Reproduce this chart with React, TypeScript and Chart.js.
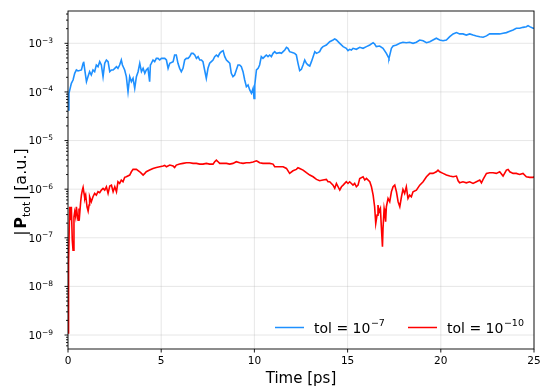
import { useEffect, useRef } from 'react';
import { Chart, registerables } from 'chart.js';

Chart.register(...registerables);

const FONT = '"DejaVu Sans", "Liberation Sans", sans-serif';

// ---- data ----
const blueTime = [
  0.00, 0.05, 0.18, 0.27, 0.36, 0.45, 0.54, 0.72, 0.81, 0.84, 0.90, 0.99, 1.07, 1.16, 1.25, 1.34, 1.43, 1.52, 1.61, 1.70,
  1.79, 1.88, 1.97, 2.06, 2.15, 2.24, 2.33, 2.42, 2.51, 2.60, 2.68, 2.77, 2.86, 2.92, 3.04, 3.13, 3.22, 3.31, 3.40, 3.49,
  3.58, 3.67, 3.76, 3.85, 3.94, 4.03, 4.12, 4.20, 4.29, 4.38, 4.42, 4.47, 4.56, 4.65, 4.74, 4.83, 4.92, 5.01, 5.19, 5.28,
  5.37, 5.46, 5.64, 5.72, 5.81, 5.90, 5.99, 6.08, 6.17, 6.26, 6.35, 6.44, 6.53, 6.62, 6.71, 6.80, 6.89, 6.98, 7.07, 7.16,
  7.24, 7.33, 7.42, 7.51, 7.60, 7.69, 7.78, 7.87, 7.96, 8.05, 8.14, 8.23, 8.32, 8.41, 8.50, 8.59, 8.68, 8.76, 8.85, 8.94,
  9.03, 9.12, 9.21, 9.30, 9.39, 9.48, 9.57, 9.66, 9.75, 9.84, 9.93, 9.98, 10.02, 10.11, 10.20, 10.28, 10.37, 10.46, 10.55, 10.64,
  10.73, 10.82, 10.91, 11.00, 11.09, 11.18, 11.36, 11.45, 11.54, 11.63, 11.72, 11.80, 11.89, 12.07, 12.16, 12.25, 12.34, 12.43, 12.52, 12.61,
  12.70, 12.79, 12.88, 12.97, 13.06, 13.15, 13.24, 13.33, 13.41, 13.50, 13.59, 13.68, 13.86, 14.04, 14.22, 14.31, 14.40, 14.58, 14.76, 14.93,
  15.02, 15.11, 15.20, 15.29, 15.47, 15.65, 15.83, 16.01, 16.19, 16.37, 16.45, 16.54, 16.72, 16.90, 17.08, 17.17, 17.22, 17.35, 17.44, 17.62,
  17.80, 17.97, 18.15, 18.33, 18.51, 18.69, 18.87, 19.05, 19.23, 19.41, 19.58, 19.76, 19.94, 20.12, 20.30, 20.48, 20.66, 20.84, 21.01, 21.19,
  21.37, 21.55, 21.73, 21.91, 22.09, 22.27, 22.45, 22.62, 22.80, 22.98, 23.16, 23.34, 23.52, 23.70, 23.88, 24.05, 24.23, 24.41, 24.59, 24.68,
  24.77, 24.95, 25.00,
];
const blueValue = [
  4.25e-5, 9.4e-5, 1.50e-4, 1.76e-4, 2.42e-4, 2.83e-4, 2.70e-4, 2.83e-4, 3.88e-4, 4.20e-4, 2.83e-4, 1.63e-4, 2.06e-4, 2.61e-4, 2.23e-4, 2.83e-4, 2.61e-4, 3.58e-4, 3.31e-4, 4.20e-4,
  3.58e-4, 2.06e-4, 3.88e-4, 4.54e-4, 4.20e-4, 2.61e-4, 2.83e-4, 2.83e-4, 3.06e-4, 3.31e-4, 3.06e-4, 3.58e-4, 4.54e-4, 3.58e-4, 2.83e-4, 2.06e-4, 1.01e-4, 2.06e-4, 1.63e-4, 1.91e-4,
  1.19e-4, 2.06e-4, 2.61e-4, 3.88e-4, 2.61e-4, 3.06e-4, 2.42e-4, 2.83e-4, 3.06e-4, 1.63e-4, 3.58e-4, 3.88e-4, 4.54e-4, 4.20e-4, 4.91e-4, 4.91e-4, 4.54e-4, 4.91e-4, 4.91e-4, 4.54e-4,
  3.06e-4, 3.88e-4, 4.20e-4, 5.75e-4, 5.75e-4, 3.88e-4, 3.06e-4, 2.61e-4, 3.06e-4, 4.54e-4, 4.91e-4, 4.91e-4, 5.32e-4, 6.22e-4, 6.22e-4, 5.75e-4, 4.91e-4, 5.32e-4, 4.54e-4, 4.54e-4,
  4.20e-4, 2.83e-4, 1.91e-4, 3.06e-4, 3.88e-4, 4.20e-4, 4.54e-4, 5.32e-4, 5.75e-4, 5.32e-4, 6.22e-4, 6.74e-4, 7.07e-4, 5.32e-4, 4.54e-4, 4.20e-4, 3.88e-4, 2.42e-4, 2.06e-4, 2.23e-4,
  2.83e-4, 3.58e-4, 3.58e-4, 3.31e-4, 2.61e-4, 1.76e-4, 1.28e-4, 1.39e-4, 1.10e-4, 9.4e-5, 1.19e-4, 7.38e-5, 1.39e-4, 2.83e-4, 3.06e-4, 3.58e-4, 5.32e-4, 4.91e-4, 5.32e-4, 5.75e-4,
  5.32e-4, 5.75e-4, 5.32e-4, 6.22e-4, 6.74e-4, 6.22e-4, 6.43e-4, 6.22e-4, 6.74e-4, 7.30e-4, 8.28e-4, 7.89e-4, 6.74e-4, 6.43e-4, 6.22e-4, 5.75e-4, 3.88e-4, 2.74e-4, 2.92e-4, 3.58e-4,
  4.54e-4, 3.88e-4, 3.58e-4, 3.42e-4, 4.20e-4, 5.32e-4, 6.74e-4, 6.22e-4, 6.43e-4, 6.74e-4, 7.89e-4, 8.54e-4, 9.24e-4, 1.08e-3, 1.17e-3, 1.23e-3, 1.17e-3, 1.00e-3, 8.54e-4, 7.89e-4,
  7.07e-4, 7.53e-4, 7.30e-4, 7.89e-4, 7.53e-4, 8.28e-4, 7.89e-4, 8.54e-4, 9.24e-4, 1.03e-3, 9.69e-4, 8.54e-4, 8.81e-4, 7.89e-4, 6.22e-4, 5.32e-4, 4.91e-4, 7.89e-4, 8.81e-4, 9.24e-4,
  1.00e-3, 1.05e-3, 1.03e-3, 1.05e-3, 1.00e-3, 1.05e-3, 1.17e-3, 1.13e-3, 1.03e-3, 1.08e-3, 1.17e-3, 1.27e-3, 1.17e-3, 1.13e-3, 1.17e-3, 1.37e-3, 1.56e-3, 1.66e-3, 1.56e-3, 1.56e-3,
  1.48e-3, 1.56e-3, 1.48e-3, 1.42e-3, 1.37e-3, 1.33e-3, 1.42e-3, 1.56e-3, 1.56e-3, 1.56e-3, 1.56e-3, 1.61e-3, 1.66e-3, 1.77e-3, 1.88e-3, 2.04e-3, 2.04e-3, 2.13e-3, 2.20e-3, 2.31e-3,
  2.20e-3, 2.04e-3, 2.04e-3,
];

const redTime = [
  0.00, 0.02, 0.04, 0.09, 0.15, 0.18, 0.23, 0.27, 0.32, 0.36, 0.41, 0.45, 0.50, 0.54, 0.59, 0.63, 0.68, 0.72, 0.77, 0.81,
  0.86, 0.90, 0.95, 1.02, 1.08, 1.13, 1.16, 1.25, 1.34, 1.43, 1.52, 1.61, 1.70, 1.79, 1.88, 1.97, 2.06, 2.15, 2.24, 2.33,
  2.42, 2.51, 2.60, 2.68, 2.77, 2.86, 2.95, 3.04, 3.13, 3.31, 3.40, 3.49, 3.67, 3.85, 3.94, 4.03, 4.12, 4.20, 4.38, 4.56,
  4.74, 4.92, 5.10, 5.19, 5.28, 5.46, 5.64, 5.72, 5.81, 5.99, 6.17, 6.35, 6.53, 6.71, 6.89, 7.07, 7.24, 7.42, 7.60, 7.78,
  7.87, 7.96, 8.05, 8.14, 8.32, 8.50, 8.68, 8.85, 9.03, 9.21, 9.39, 9.57, 9.75, 9.93, 10.11, 10.20, 10.28, 10.46, 10.64, 10.82,
  11.00, 11.09, 11.18, 11.36, 11.54, 11.72, 11.89, 12.07, 12.25, 12.34, 12.43, 12.61, 12.79, 12.97, 13.15, 13.33, 13.50, 13.68, 13.86, 13.95,
  14.04, 14.22, 14.31, 14.40, 14.58, 14.67, 14.76, 14.93, 15.02, 15.11, 15.29, 15.38, 15.47, 15.56, 15.65, 15.83, 15.92, 16.01, 16.19, 16.28,
  16.37, 16.45, 16.51, 16.58, 16.63, 16.69, 16.76, 16.81, 16.87, 16.90, 16.96, 16.99, 17.04, 17.08, 17.17, 17.26, 17.35, 17.44, 17.53, 17.62,
  17.71, 17.80, 17.89, 17.97, 18.06, 18.15, 18.24, 18.33, 18.42, 18.51, 18.69, 18.87, 19.05, 19.23, 19.41, 19.58, 19.76, 19.85, 19.94, 20.12,
  20.30, 20.48, 20.66, 20.84, 20.93, 21.01, 21.19, 21.37, 21.55, 21.73, 21.91, 22.09, 22.18, 22.27, 22.45, 22.62, 22.80, 22.98, 23.16, 23.34,
  23.52, 23.61, 23.70, 23.88, 24.05, 24.23, 24.41, 24.59, 24.77, 24.95, 25.00,
];
const redValue = [
  1.1e-9, 1.3e-8, 3.0e-8, 4.35e-7, 2.31e-7, 4.35e-7, 8.96e-8, 5.58e-8, 2.71e-7, 3.43e-7, 2.71e-7, 4.35e-7, 2.93e-7, 2.31e-7, 4.02e-7, 3.17e-7, 5.51e-7, 7.55e-7, 9.57e-7, 1.09e-6,
  8.18e-7, 6.45e-7, 7.55e-7, 4.35e-7, 3.54e-7, 4.71e-7, 6.98e-7, 5.51e-7, 6.98e-7, 8.18e-7, 7.55e-7, 8.85e-7, 8.44e-7, 9.57e-7, 1.04e-6, 9.57e-7, 1.12e-6, 8.18e-7, 1.16e-6, 1.21e-6,
  8.85e-7, 1.12e-6, 8.85e-7, 1.42e-6, 1.31e-6, 1.54e-6, 1.42e-6, 1.75e-6, 1.80e-6, 1.95e-6, 2.28e-6, 2.55e-6, 2.55e-6, 2.28e-6, 2.11e-6, 1.95e-6, 2.11e-6, 2.28e-6, 2.47e-6, 2.67e-6,
  2.80e-6, 2.89e-6, 2.99e-6, 3.08e-6, 2.89e-6, 3.13e-6, 2.99e-6, 2.80e-6, 3.13e-6, 3.28e-6, 3.39e-6, 3.50e-6, 3.50e-6, 3.39e-6, 3.39e-6, 3.28e-6, 3.28e-6, 3.39e-6, 3.28e-6, 3.28e-6,
  3.67e-6, 3.97e-6, 3.67e-6, 3.39e-6, 3.39e-6, 3.39e-6, 3.28e-6, 3.39e-6, 3.67e-6, 3.50e-6, 3.39e-6, 3.50e-6, 3.50e-6, 3.61e-6, 3.84e-6, 3.67e-6, 3.50e-6, 3.39e-6, 3.39e-6, 3.39e-6,
  3.28e-6, 2.89e-6, 2.89e-6, 2.89e-6, 2.89e-6, 2.67e-6, 2.11e-6, 2.39e-6, 2.55e-6, 2.76e-6, 2.67e-6, 2.47e-6, 2.18e-6, 1.95e-6, 1.80e-6, 1.59e-6, 1.49e-6, 1.54e-6, 1.59e-6, 1.42e-6,
  1.42e-6, 1.21e-6, 1.04e-6, 1.31e-6, 9.57e-7, 1.12e-6, 1.21e-6, 1.42e-6, 1.31e-6, 1.42e-6, 1.21e-6, 1.31e-6, 1.12e-6, 1.21e-6, 1.66e-6, 1.80e-6, 1.54e-6, 1.66e-6, 1.42e-6, 1.12e-6,
  7.55e-7, 4.35e-7, 1.97e-7, 2.93e-7, 4.71e-7, 3.43e-7, 4.02e-7, 1.69e-7, 6.53e-8, 1.56e-7, 4.02e-7, 3.43e-7, 2.14e-7, 4.35e-7, 6.45e-7, 5.51e-7, 8.85e-7, 1.12e-6, 1.21e-6, 8.85e-7,
  5.51e-7, 4.35e-7, 6.98e-7, 9.89e-7, 8.18e-7, 1.12e-6, 6.45e-7, 7.55e-7, 6.98e-7, 8.85e-7, 9.57e-7, 1.21e-6, 1.42e-6, 1.80e-6, 2.11e-6, 2.11e-6, 2.28e-6, 2.47e-6, 2.28e-6, 2.11e-6,
  1.95e-6, 1.86e-6, 1.80e-6, 1.86e-6, 1.49e-6, 1.35e-6, 1.42e-6, 1.35e-6, 1.42e-6, 1.31e-6, 1.42e-6, 1.54e-6, 1.35e-6, 1.59e-6, 2.11e-6, 2.18e-6, 2.18e-6, 2.11e-6, 2.28e-6, 1.86e-6,
  2.47e-6, 2.55e-6, 2.28e-6, 2.11e-6, 2.11e-6, 2.01e-6, 2.11e-6, 1.80e-6, 1.75e-6, 1.75e-6, 1.80e-6,
];

const xTicks = [0, 5, 10, 15, 20, 25];
const yDecades = [-9, -8, -7, -6, -5, -4, -3];
const seriesLabels = ['tol = 10⁻⁷', 'tol = 10⁻¹⁰'];
const legendBase = 'tol = 10';
const legendExp = ['−7', '−10'];
const seriesColors = ['#1E90FF', '#FF0000'];
const xTitle = 'Time [ps]';

const mplPlugin = {
  id: 'mplAxes',
  beforeDatasetsDraw(chart: any) {
    const { ctx, chartArea: a, scales } = chart;
    const x = scales.x;
    const y = scales.y;
    ctx.save();
    ctx.strokeStyle = 'rgba(176,176,176,0.3)';
    ctx.lineWidth = 1;
    ctx.beginPath();
    for (const t of xTicks) {
      const px = x.getPixelForValue(t);
      ctx.moveTo(px, a.top);
      ctx.lineTo(px, a.bottom);
    }
    for (const e of yDecades) {
      const py = y.getPixelForValue(Math.pow(10, e));
      ctx.moveTo(a.left, py);
      ctx.lineTo(a.right, py);
    }
    ctx.stroke();
    ctx.restore();
  },
  afterDatasetsDraw(chart: any) {
    const { ctx, chartArea: a, scales } = chart;
    const x = scales.x;
    const y = scales.y;
    ctx.save();
    // spines
    ctx.strokeStyle = '#000';
    ctx.lineWidth = 0.9;
    ctx.strokeRect(a.left, a.top, a.right - a.left, a.bottom - a.top);

    // x ticks
    ctx.beginPath();
    for (const t of xTicks) {
      const px = x.getPixelForValue(t);
      ctx.moveTo(px, a.bottom);
      ctx.lineTo(px, a.bottom + 3.5);
    }
    // y ticks major & minor
    for (let e = -10; e <= -3; e++) {
      for (let m = 1; m <= 9; m++) {
        const v = m * Math.pow(10, e);
        if (v < y.min || v > y.max) continue;
        const py = y.getPixelForValue(v);
        const len = m === 1 ? 3.5 : 2;
        ctx.moveTo(a.left, py);
        ctx.lineTo(a.left - len, py);
      }
    }
    ctx.stroke();

    ctx.fillStyle = '#000';
    // x tick labels
    ctx.font = `10.5px ${FONT}`;
    ctx.textAlign = 'center';
    ctx.textBaseline = 'middle';
    for (const t of xTicks) {
      ctx.fillText(String(t), x.getPixelForValue(t), a.bottom + 12.5);
    }
    // y tick labels 10^e
    for (const e of yDecades) {
      const py = y.getPixelForValue(Math.pow(10, e));
      const sup = '−' + String(-e);
      ctx.font = `7.5px ${FONT}`;
      const ws = ctx.measureText(sup).width;
      ctx.font = `10.5px ${FONT}`;
      const wb = ctx.measureText('10').width;
      const right = a.left - 15;
      ctx.textAlign = 'left';
      ctx.textBaseline = 'alphabetic';
      ctx.fillText('10', right - ws - wb, py + 3.8);
      ctx.font = `7.5px ${FONT}`;
      ctx.fillText(sup, right - ws, py - 0.5);
    }

    // x title
    ctx.font = `15px ${FONT}`;
    ctx.textAlign = 'center';
    ctx.textBaseline = 'middle';
    ctx.fillText(xTitle, (a.left + a.right) / 2, 379);

    // y title: |P_tot| [a.u.]
    ctx.save();
    ctx.translate(20, 192);
    ctx.rotate(-Math.PI / 2);
    const parts = [
      { s: '|', f: `16px ${FONT}`, dy: 0, gap: 1.5 },
      { s: 'P', f: `bold 16px ${FONT}`, dy: 0, gap: 0 },
      { s: 'tot', f: `11px ${FONT}`, dy: 3.5, gap: 1.5 },
      { s: '|', f: `16px ${FONT}`, dy: 0, gap: 4 },
      { s: '[a.u.]', f: `16px ${FONT}`, dy: 0, gap: 0 },
    ];
    let total = 0;
    for (const p of parts) { ctx.font = p.f; total += ctx.measureText(p.s).width + p.gap; }
    let cx = -total / 2;
    ctx.textAlign = 'left';
    ctx.textBaseline = 'alphabetic';
    for (const p of parts) {
      ctx.font = p.f;
      ctx.fillText(p.s, cx, 6 + p.dy);
      cx += ctx.measureText(p.s).width + p.gap;
    }
    ctx.restore();

    // legend (inside, lower right, no frame)
    const ly = 327.5;
    const starts = [275, 408];
    for (let i = 0; i < 2; i++) {
      const sx = starts[i];
      ctx.strokeStyle = seriesColors[i];
      ctx.lineWidth = 1.5;
      ctx.beginPath();
      ctx.moveTo(sx, ly);
      ctx.lineTo(sx + 29, ly);
      ctx.stroke();
      ctx.fillStyle = '#000';
      ctx.textAlign = 'left';
      ctx.textBaseline = 'alphabetic';
      ctx.font = `14px ${FONT}`;
      const tx = sx + 39;
      ctx.fillText(legendBase, tx, ly + 5.3);
      const wb = ctx.measureText(legendBase).width;
      ctx.font = `9.5px ${FONT}`;
      ctx.fillText(legendExp[i], tx + wb + 0.5, ly - 1.5);
    }
    ctx.restore();
  },
};

export default function App() {
  const ref = useRef<HTMLCanvasElement | null>(null);
  useEffect(() => {
    document.body.style.margin = '0';
    if (!ref.current) return;
    const chart = new Chart(ref.current, {
      type: 'line',
      data: {
        datasets: [
          {
            label: seriesLabels[0],
            data: blueTime.map((t, i) => ({ x: t, y: blueValue[i] })),
            borderColor: seriesColors[0],
            borderWidth: 1.6,
            pointRadius: 0,
            tension: 0,
            fill: false,
          },
          {
            label: seriesLabels[1],
            data: redTime.map((t, i) => ({ x: t, y: redValue[i] })),
            borderColor: seriesColors[1],
            borderWidth: 1.6,
            pointRadius: 0,
            tension: 0,
            fill: false,
          },
        ],
      },
      options: {
        animation: false,
        responsive: false,
        maintainAspectRatio: false,
        events: [],
        layout: { padding: { left: 68, right: 6, top: 11, bottom: 39 } },
        scales: {
          x: { type: 'linear', min: 0, max: 25, display: false },
          y: { type: 'logarithmic', min: 5.16e-10, max: 4.62e-3, display: false },
        },
        plugins: { legend: { display: false }, tooltip: { enabled: false } },
      },
      plugins: [mplPlugin],
    } as any);
    return () => chart.destroy();
  }, []);
  return (
    <div style={{ width: 540, height: 388 }}>
      <canvas ref={ref} width={540} height={388} style={{ display: 'block' }} />
    </div>
  );
}
